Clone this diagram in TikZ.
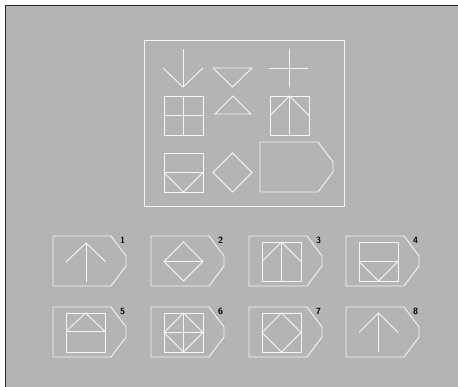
\documentclass[tikz,border=0pt]{standalone}
\usepackage{tikz}
\definecolor{panelgray}{RGB}{180,180,180}
\definecolor{paneledge}{RGB}{40,40,40}
\definecolor{chalk}{RGB}{245,245,245}
\tikzset{
  chalk line/.style={draw=chalk, line width=0.9pt},
  optlabel/.style={font=\small\sffamily\bfseries, inner sep=0pt}
}
% tag outline, given its top left corner
\newcommand{\tagshape}[2]{%
  \draw[chalk line] (#1,#2) -- ++(58,0) -- ++(15,20) -- ++(0,10)
    -- ++(-15,20) -- ++(-58,0) -- cycle;}

\begin{document}
\begin{tikzpicture}[x=1pt, y=-1pt]
  \useasboundingbox (0,0) rectangle (458,387);
  \fill[white] (0,0) rectangle (458,387);
  \fill[panelgray] (5,5) rectangle (458,387);
  \draw[paneledge, line width=1.6pt] (5.5,387) -- (5.5,5.5) -- (458,5.5);

  % problem matrix
  \draw[chalk line] (144,40) rectangle (344,206);
  \draw[chalk line] (183,49) -- (183,87);
  \draw[chalk line] (163,68) -- (183,87) -- (203,68);
  \draw[chalk line] (213,68) -- (252,68) -- (232.5,87) -- cycle;
  \draw[chalk line] (269,68) -- (308,68);
  \draw[chalk line] (289,49) -- (289,87);

  \draw[chalk line] (164,96) rectangle (203,135);
  \draw[chalk line] (183.5,96) -- (183.5,135);
  \draw[chalk line] (164,115.5) -- (203,115.5);
  \draw[chalk line] (215,114) -- (233,96) -- (251,114) -- cycle;
  \draw[chalk line] (270,96) rectangle (309,135);
  \draw[chalk line] (289.5,96) -- (289.5,135);
  \draw[chalk line] (270,115.5) -- (289.5,96) -- (309,115.5);

  \draw[chalk line] (164,153) rectangle (203,192);
  \draw[chalk line] (164,172.5) -- (203,172.5);
  \draw[chalk line] (164,172.5) -- (183.5,192) -- (203,172.5);
  \draw[chalk line] (213,172.5) -- (232.5,153) -- (252,172.5)
    -- (232.5,192) -- cycle;
  \tagshape{260}{142}

  % answer tags
  \foreach \i/\x/\y in {1/53/236, 2/151/236, 3/249/236, 4/346/236,
                        5/53/307, 6/151/307, 7/249/307, 8/346/307} {
    \tagshape{\x}{\y}
    \node[optlabel] (n\i) at (\x+69.5,\y+4.5) {\i};
  }

  \begin{scope}[shift={(53,236)}]
    \draw[chalk line] (33,7) -- (33,46);
    \draw[chalk line] (13,26) -- (33,7) -- (53,26);
  \end{scope}
  \begin{scope}[shift={(151,236)}]
    \draw[chalk line] (13,25.5) -- (32.5,6) -- (52,25.5) -- (32.5,45) -- cycle;
    \draw[chalk line] (13,25.5) -- (52,25.5);
  \end{scope}
  \begin{scope}[shift={(249,236)}]
    \draw[chalk line] (13,6) rectangle (52,45);
    \draw[chalk line] (32.5,6) -- (32.5,45);
    \draw[chalk line] (13,25.5) -- (32.5,6) -- (52,25.5);
  \end{scope}
  \begin{scope}[shift={(346,236)}]
    \draw[chalk line] (13,6) rectangle (52,45);
    \draw[chalk line] (13,25.5) -- (52,25.5);
    \draw[chalk line] (13,25.5) -- (32.5,45) -- (52,25.5);
  \end{scope}

  \begin{scope}[shift={(53,307)}]
    \draw[chalk line] (13,6) rectangle (52,45);
    \draw[chalk line] (13,24.5) -- (52,24.5);
    \draw[chalk line] (13,24.5) -- (32.5,6) -- (52,24.5);
  \end{scope}
  \begin{scope}[shift={(151,307)}]
    \draw[chalk line] (13,6) rectangle (52,45);
    \draw[chalk line] (13,25.5) -- (52,25.5);
    \draw[chalk line] (32.5,6) -- (32.5,45);
    \draw[chalk line] (13,25.5) -- (32.5,6) -- (52,25.5) -- (32.5,45) -- cycle;
  \end{scope}
  \begin{scope}[shift={(249,307)}]
    \draw[chalk line] (13,6) rectangle (52,45);
    \draw[chalk line] (13,25.5) -- (32.5,6) -- (52,25.5) -- (32.5,45) -- cycle;
  \end{scope}
  \begin{scope}[shift={(346,307)}]
    \draw[chalk line] (32.5,6) -- (32.5,45);
    \draw[chalk line] (13,25.5) -- (32.5,6) -- (52,25.5);
  \end{scope}
\end{tikzpicture}
\end{document}
